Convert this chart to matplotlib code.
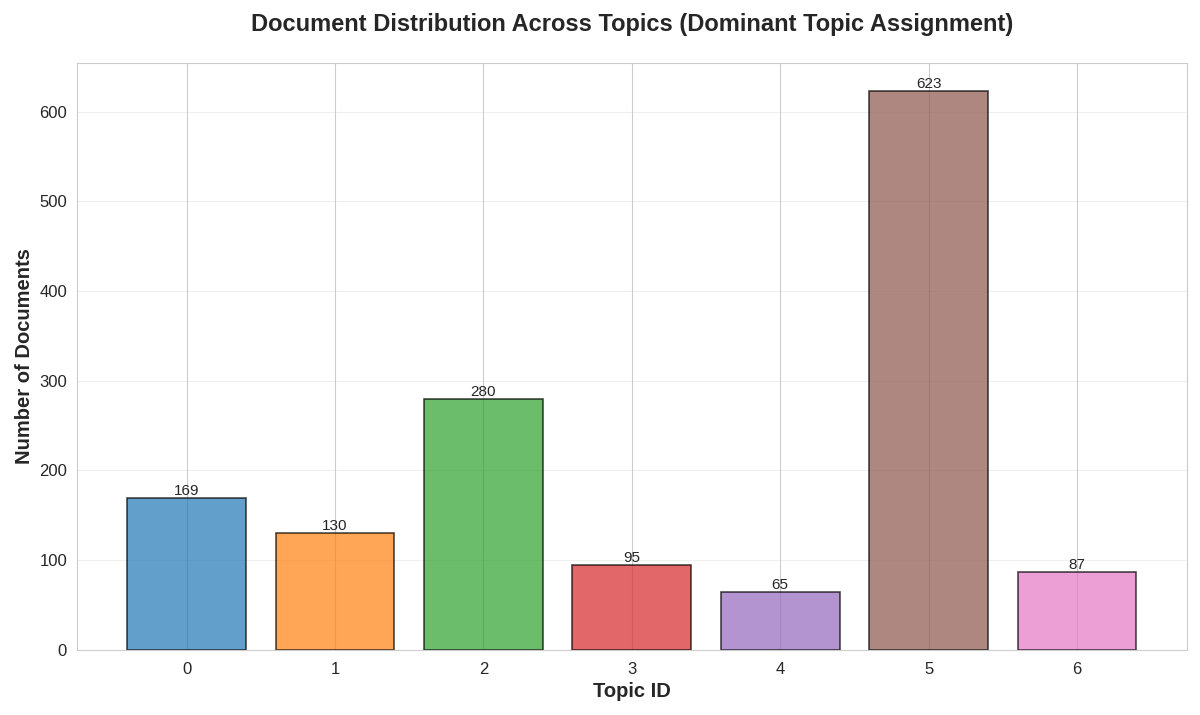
import matplotlib
matplotlib.use("Agg")
import matplotlib.pyplot as plt
import seaborn as sns

# data
topics = [0, 1, 2, 3, 4, 5, 6]
doc_counts = [169, 130, 280, 95, 65, 623, 87]

sns.set_style("whitegrid")
plt.rcParams['font.family'] = ['Liberation Sans', 'DejaVu Sans']

colors = plt.cm.tab10.colors[:len(topics)]

fig, ax = plt.subplots(figsize=(12, 7.15), dpi=100)
fig.subplots_adjust(left=0.064, right=0.989, top=0.912, bottom=0.091)

bars = ax.bar(topics, doc_counts, color=colors, alpha=0.7,
              edgecolor='black', linewidth=1.2)

for bar, val in zip(bars, doc_counts):
    ax.text(bar.get_x() + bar.get_width() / 2, bar.get_height(), str(val),
            ha='center', va='bottom', fontsize=11)

ax.set_xticks(topics)
ax.set_xlabel("Topic ID", fontsize=14.5, fontweight='bold', labelpad=4)
ax.set_ylabel("Number of Documents", fontsize=14.5, fontweight='bold')
ax.set_title("Document Distribution Across Topics (Dominant Topic Assignment)",
             fontsize=17, fontweight='bold', pad=23)
ax.grid(axis='y', alpha=0.3)
ax.tick_params(labelsize=12)
ax.tick_params(axis='x', pad=5)

fig.savefig("out.png", dpi=100)
